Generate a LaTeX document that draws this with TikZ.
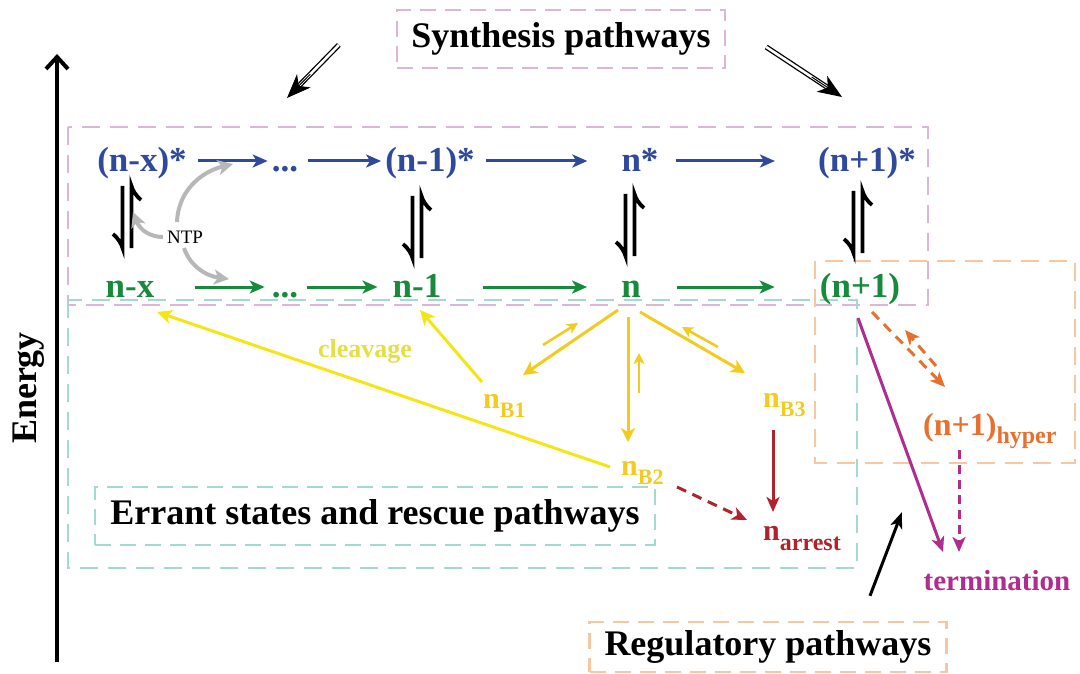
\documentclass[tikz,border=0pt]{standalone}
\usepackage{fontspec}
\setmainfont{Liberation Serif}
\usetikzlibrary{arrows.meta,calc}

\definecolor{synblue}{HTML}{2F4A9C}
\definecolor{syngreen}{HTML}{178A3C}
\definecolor{goldy}{HTML}{F2CB1E}
\definecolor{brighty}{HTML}{F4E514}
\definecolor{paley}{HTML}{E2E044}
\definecolor{arrestred}{HTML}{B0222C}
\definecolor{hyperor}{HTML}{E8702E}
\definecolor{termmag}{HTML}{B02C8E}
\definecolor{boxpink}{HTML}{DCB6D4}
\definecolor{boxcyan}{HTML}{A5D8D3}
\definecolor{boxpeach}{HTML}{F6C7A0}
\definecolor{ntpgray}{HTML}{B7B7B7}

% lowered subscript: #1 drop, #2 size, #3 text
\newcommand{\lowsub}[3]{\raisebox{-#1}{\fontsize{#2}{#2}\selectfont #3}}

\tikzset{
  rowlbl/.style={anchor=base, inner xsep=4pt, inner ysep=0pt, text height=30pt, text depth=8pt,
    font=\fontsize{35}{40}\selectfont\bfseries},
  toprow/.style={rowlbl, text=synblue},
  botrow/.style={rowlbl, text=syngreen},
  sublbl/.style={anchor=base west, inner sep=0pt, font=\fontsize{30}{34}\selectfont\bfseries},
  headbox/.style={draw, line width=2.4pt, dash pattern=on 16pt off 9pt,
    font=\fontsize{36}{40}\selectfont\bfseries, inner sep=0pt},
  region/.style={line width=2.4pt, dash pattern=on 18pt off 10pt},
  flow/.style={line width=3pt, -{Stealth[length=15pt,width=13pt,inset=4pt]}},
  yflow/.style={line width=3pt, draw=goldy, -{Stealth[length=14pt,width=14pt,inset=4pt,fill=goldy]}},
  yback/.style={line width=2.6pt, draw=goldy, -{Stealth[length=11pt,width=11pt,inset=3pt,fill=goldy]}},
  ylong/.style={line width=3pt, draw=brighty, -{Stealth[length=15pt,width=14pt,inset=4pt,fill=brighty]}},
  rflow/.style={line width=3pt, draw=arrestred, -{Stealth[length=15pt,width=13pt,inset=4pt,fill=arrestred]}},
  oflow/.style={line width=3pt, draw=hyperor, dash pattern=on 10pt off 7pt,
    -{Stealth[length=15pt,width=13pt,inset=4pt,fill=hyperor]}},
  mflow/.style={line width=3pt, draw=termmag, -{Stealth[length=15pt,width=13pt,inset=4pt,fill=termmag]}},
  ntparrow/.style={line width=4pt, draw=ntpgray, -{Stealth[length=15pt,width=15pt,inset=4pt,fill=ntpgray]}},
  dblshaft/.style={line width=1.3pt, double=white, double distance=2.6pt, shorten >=18pt},
  dblhead/.style={line width=1pt, -{Stealth[length=24pt,width=19pt,inset=7pt,fill=black]}},
  eqpair/.pic={
    \draw[line width=3.8pt] (-4.5,-31) -- (-4.5,31) .. controls (-5.5,27) and (-9,21) .. (-14,17);
    \draw[line width=3.8pt] (4.5,31) -- (4.5,-31) .. controls (5.5,-27) and (9,-21) .. (14,-17);
  }
}

\begin{document}
\begin{tikzpicture}[x=1pt,y=-1pt]
\useasboundingbox (0,0) rectangle (1080,674);

% dashed regions
\draw[region, draw=boxpink]  (68,127) rectangle (928,305);
\draw[region, draw=boxcyan]  (68,300) rectangle (857,568);
\draw[region, draw=boxpeach] (815,261) rectangle (1075,463);

% energy axis
\coordinate (axlo) at (57,662);
\coordinate (axhi) at (57,54);
\draw[line width=4pt, -{Straight Barb[length=12pt,width=22pt]}] (axlo) -- (axhi);
\node[rotate=90, font=\fontsize{36}{40}\selectfont\bfseries] (energy) at (29,388) {Energy};

% heading boxes
\node[headbox, draw=boxpink, minimum width=328pt, minimum height=58pt] (syn) at (561,39) {Synthesis pathways};
\node[headbox, draw=boxcyan, minimum width=560pt, minimum height=58pt] (err) at (375,516) {Errant states and rescue pathways};
\node[headbox, draw=boxpeach, minimum width=357pt, minimum height=50pt] (reg) at (768,647) {Regulatory pathways};

% activated states
\node[toprow] (nxs)  at (142,172) {(n-x)*};
\node[toprow] (dts)  at (285,172) {...};
\node[toprow] (nm1s) at (430,172) {(n-1)*};
\node[toprow] (ns)   at (640,172) {n*};
\node[toprow] (np1s) at (867,172) {(n+1)*};
% ground states
\node[botrow] (nx)  at (130,298) {n-x};
\node[botrow] (dtb) at (285,298) {...};
\node[botrow] (nm1) at (417,298) {n-1};
\node[botrow] (n)   at (631,298) {n};
\node[botrow] (np1) at (860,298) {(n+1)};

% off-pathway states
\node[sublbl, text=goldy] (nb1) at (483,408) {n\lowsub{9pt}{22}{B1}};
\node[sublbl, text=goldy] (nb2) at (621,475) {n\lowsub{9pt}{22}{B2}};
\node[sublbl, text=goldy] (nb3) at (763,407) {n\lowsub{9pt}{22}{B3}};
\node[sublbl, text=arrestred] (narr) at (763,540) {n\lowsub{10pt}{24}{arrest}};
\node[sublbl, text=hyperor, font=\fontsize{32}{36}\selectfont\bfseries] (hyp) at (923,435) {(n+1)\lowsub{8pt}{24}{hyper}};
\node[anchor=base, text=termmag, font=\fontsize{29}{32}\selectfont\bfseries] (term) at (997,590) {termination};
\node[anchor=base, text=paley, font=\fontsize{26}{30}\selectfont\bfseries] (clv) at (365,357) {cleavage};
\node[font=\fontsize{19}{22}\selectfont] (ntp) at (185,237) {NTP};

% synthesis pointers
\coordinate (synLt) at ([shift={(-57,6)}]syn.west);
\coordinate (synRt) at ([shift={(40,8)}]syn.east);
\coordinate (synL) at (287,98);
\coordinate (synR) at (842,97);
\draw[dblshaft] (synLt) -- (synL);
\draw[dblhead] ($(synLt)!0.55!(synL)$) -- (synL);
\draw[dblshaft] (synRt) -- (synR);
\draw[dblhead] ($(synRt)!0.6!(synR)$) -- (synR);

% forward steps, activated row
\draw[flow, draw=synblue, shorten <=7pt] (nxs.east) -- (dts.west);
\draw[flow, draw=synblue, shorten <=6pt] (dts.east) -- (nm1s.west);
\draw[flow, draw=synblue, shorten <=7pt, shorten >=30pt] (nm1s.east) -- (ns.west);
\draw[flow, draw=synblue, shorten <=13pt, shorten >=39pt] (ns.east) -- (np1s.west);
% forward steps, ground row
\draw[flow, draw=syngreen, shorten <=36pt, shorten >=3pt] (nx.east) -- (dtb.west);
\draw[flow, draw=syngreen, shorten <=5pt, shorten >=11pt] (dtb.east) -- (nm1.west);
\draw[flow, draw=syngreen, shorten <=37pt, shorten >=30pt] (nm1.east) -- (n.west);
\draw[flow, draw=syngreen, shorten <=32pt, shorten >=41pt] (n.east) -- (np1.west);

% equilibria between rows
\pic at (127,217) {eqpair};
\pic at (417,227) {eqpair};
\pic at (630,225) {eqpair};
\pic at (858,222) {eqpair};

% NTP binding
\coordinate (ntpup) at (233,164);
\coordinate (ntpleft) at (133,212);
\coordinate (ntpdown) at (229,279);
\draw[ntparrow] ([shift={(-8,-15)}]ntp.center) .. controls (178,192) and (200,172) .. (ntpup);
\draw[ntparrow] ([shift={(-22,0)}]ntp.center) .. controls (150,237) and (140,230) .. (ntpleft);
\draw[ntparrow] ([shift={(-1,11)}]ntp.center) .. controls (190,266) and (206,276) .. (ntpdown);

% branching from n
\draw[yflow] ([shift={(-13,12)}]n.base) -- ([shift={(40,-33)}]nb1.base west);
\draw[yflow] ([shift={(-3,19)}]n.base) -- ([shift={(7,-33)}]nb2.base west);
\draw[yflow] ([shift={(9,14)}]n.base) -- ([shift={(-18,-34)}]nb3.base west);
\coordinate (r1a) at (543,345); \coordinate (r1b) at (578,323);
\coordinate (r2a) at (639,393); \coordinate (r2b) at (639,353);
\coordinate (r3a) at (718,347); \coordinate (r3b) at (682,327);
\draw[yback] (r1a) -- (r1b);
\draw[yback] (r2a) -- (r2b);
\draw[yback] (r3a) -- (r3b);

% cleavage rescue
\draw[ylong] ([shift={(-1,-26)}]nb1.base west) -- ([shift={(3,12)}]nm1.base);
\draw[ylong] ([shift={(-11,-8)}]nb2.base west) -- ([shift={(27,14)}]nx.base);

% arrest
\draw[rflow] ([shift={(10,23)}]nb3.base west) -- ([shift={(10,-28)}]narr.base west);
\draw[rflow, dash pattern=on 10pt off 7pt] ([shift={(56,12)}]nb2.base west) -- ([shift={(-16,-20)}]narr.base west);

% hypertranslocation
\draw[oflow] ([shift={(12,14)}]np1.base) -- ([shift={(22,-48)}]hyp.base west);
\coordinate (o2a) at (936,366); \coordinate (o2b) at (905,330);
\draw[oflow] (o2a) -- (o2b);

% termination
\draw[mflow] ([shift={(-2,20)}]np1.base) -- ([shift={(-54,-38)}]term.base);
\draw[mflow, dash pattern=on 9pt off 6pt] ([shift={(36,15)}]hyp.base west) -- ([shift={(-38,-38)}]term.base);

% regulatory pointer
\coordinate (regtip) at (902,512);
\draw[line width=3pt, -{Stealth[length=16pt,width=12pt,inset=4pt]}] ([shift={(102,-25)}]reg.north) -- (regtip);
\end{tikzpicture}
\end{document}
